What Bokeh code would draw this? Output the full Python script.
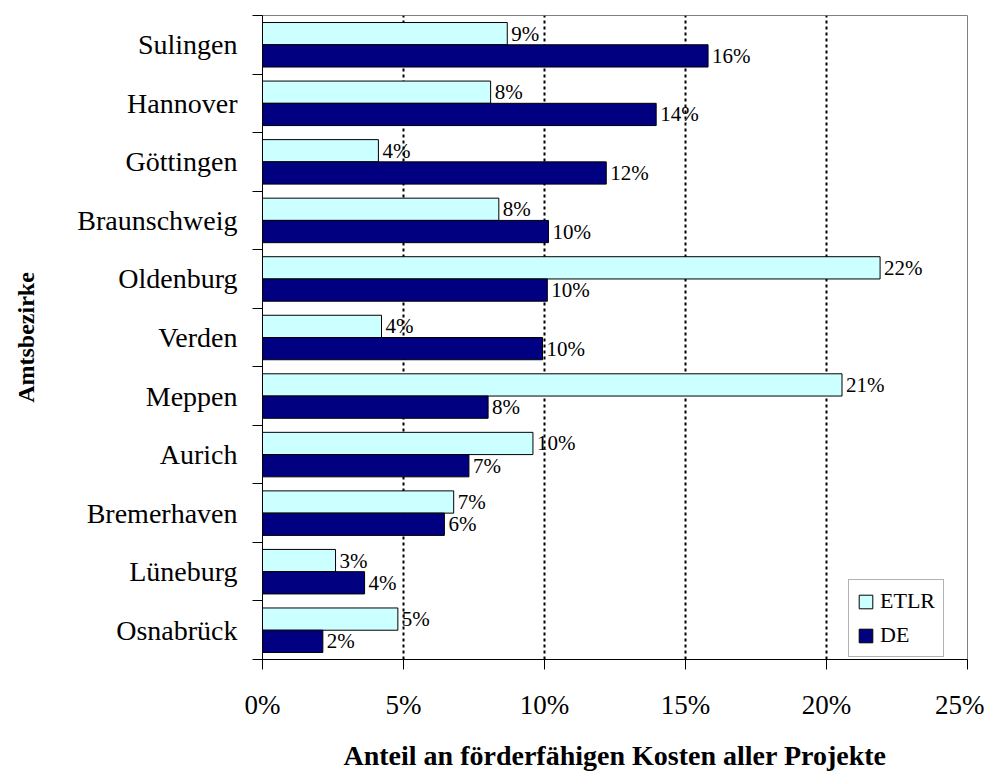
from bokeh.plotting import figure
from bokeh.models import (ColumnDataSource, FixedTicker, NumeralTickFormatter,
                          Range1d, Legend, LegendItem)
from bokeh.transform import dodge
from bokeh.core.properties import value
from bokeh.embed import file_html
from bokeh.resources import INLINE

# ---- data (top to bottom as shown) ----
categories = ["Sulingen", "Hannover", "Göttingen", "Braunschweig", "Oldenburg",
              "Verden", "Meppen", "Aurich", "Bremerhaven", "Lüneburg", "Osnabrück"]
etlr = [0.0868, 0.0809, 0.0411, 0.0838, 0.219, 0.0422, 0.2055, 0.0959, 0.0678, 0.0259, 0.048]
de = [0.158, 0.1396, 0.1219, 0.1014, 0.101, 0.0993, 0.080, 0.0732, 0.0645, 0.0362, 0.0214]
x_ticks = [0, 0.05, 0.10, 0.15, 0.20, 0.25]
series_names = ["ETLR", "DE"]
colors = ["#CCFFFF", "#000080"]

n = len(categories)
ypos = [n - i - 0.5 for i in range(n)]
boundaries = [float(i) for i in range(n + 1)]

source = ColumnDataSource(dict(
    cat=categories, y=ypos, etlr=etlr, de=de,
    etlr_lbl=[f"{v * 100:.0f}%" for v in etlr],
    de_lbl=[f"{v * 100:.0f}%" for v in de],
))

FONT = "Liberation Serif"

p = figure(width=984, height=774,
           x_range=Range1d(0, 0.25), y_range=Range1d(0, n),
           output_backend="svg", toolbar_location=None,
           min_border_left=262, min_border_right=17,
           min_border_top=15, min_border_bottom=115)
p.background_fill_color = "white"
p.border_fill_color = "white"
p.outline_line_color = "#808080"
p.outline_line_width = 1

bar_h = 0.38
off = 0.19
r1 = p.hbar(y=dodge("y", off), right="etlr", left=0, height=bar_h, source=source,
            fill_color=colors[0], line_color="black", line_width=1)
r2 = p.hbar(y=dodge("y", -off), right="de", left=0, height=bar_h, source=source,
            fill_color=colors[1], line_color="black", line_width=1)

lbl_kw = dict(x_offset=4, text_baseline="middle", text_align="left",
              text_font=value(FONT), text_font_size="21px", text_color="black",
              source=source)
p.text(x="etlr", y=dodge("y", off), text="etlr_lbl", **lbl_kw)
p.text(x="de", y=dodge("y", -off), text="de_lbl", **lbl_kw)

# ---- x axis ----
xa = p.xaxis[0]
xa.ticker = FixedTicker(ticks=x_ticks)
xa.formatter = NumeralTickFormatter(format="0%")
xa.major_tick_out = 10
xa.major_tick_in = 0
xa.minor_tick_line_color = None
xa.axis_line_color = "black"
xa.major_tick_line_color = "black"
xa.major_label_standoff = 20
xa.major_label_text_font = FONT
xa.major_label_text_font_size = "27px"
xa.major_label_text_color = "black"
xa.axis_label = "Anteil an förderfähigen Kosten aller Projekte"
xa.axis_label_text_font = FONT
xa.axis_label_text_font_style = "bold"
xa.axis_label_text_font_size = "28px"
xa.axis_label_text_color = "black"
xa.axis_label_standoff = 17

# ---- y axis ----
ya = p.yaxis[0]
ya.ticker = FixedTicker(ticks=ypos, minor_ticks=boundaries)
ya.major_label_overrides = {y: c for y, c in zip(ypos, categories)}
ya.major_tick_out = 10
ya.major_tick_in = 0
ya.major_tick_line_color = None
ya.minor_tick_out = 10
ya.minor_tick_in = 0
ya.minor_tick_line_color = "black"
ya.axis_line_color = "black"
ya.major_label_standoff = 15
ya.major_label_text_font = FONT
ya.major_label_text_font_size = "28px"
ya.major_label_text_color = "black"
ya.axis_label = "Amtsbezirke"
ya.axis_label_text_font = FONT
ya.axis_label_text_font_style = "bold"
ya.axis_label_text_font_size = "24px"
ya.axis_label_text_color = "black"
ya.axis_label_standoff = 35

# ---- grid ----
p.ygrid.visible = False
p.xgrid.ticker = FixedTicker(ticks=x_ticks[1:])
p.xgrid.grid_line_color = "black"
p.xgrid.grid_line_dash = "3 3"
p.xgrid.grid_line_width = 2

# ---- legend ----
legend = Legend(items=[LegendItem(label=series_names[0], renderers=[r1]),
                       LegendItem(label=series_names[1], renderers=[r2])],
                location=(586, 2))
legend.label_text_font = FONT
legend.label_text_font_size = "22px"
legend.label_text_color = "black"
legend.glyph_width = 17
legend.glyph_height = 17
legend.label_standoff = 6
legend.spacing = 8
legend.padding = 8
legend.margin = 0
legend.border_line_color = "#666666"
legend.border_line_width = 1
legend.background_fill_color = "white"
legend.background_fill_alpha = 1
p.add_layout(legend)

open("out.html", "w").write(file_html(p, INLINE))
